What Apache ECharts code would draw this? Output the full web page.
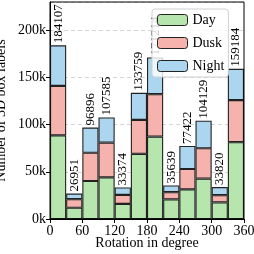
<!DOCTYPE html>
<html><head><meta charset="utf-8">
<script src="https://cdn.jsdelivr.net/npm/echarts@6/dist/echarts.min.js"></script>
<style>html,body{margin:0;padding:0;background:#fff}#c{width:254px;height:254px}</style>
</head><body><div id="c"></div>
<script>
const bins = ['0-30','30-60','60-90','90-120','120-150','150-180','180-210','210-240','240-270','270-300','300-330','330-360'];
const day   = [88700, 11900, 40300, 44200, 16000, 69100, 87400, 20700, 31400, 42800, 17600, 81400];
const dusk  = [52300,  9100, 29900, 36800,  9500, 35900, 44900,  7700, 21600, 32200,  7700, 44600];
const night = [43107,  5951, 26696, 26585,  7874, 28759, 38914,  7239, 24422, 29129,  8520, 33184];
const totals = [184107, 26951, 96896, 107585, 33374, 133759, 171214, 35639, 77422, 104129, 33820, 159184];
const xTicks = [0, 60, 120, 180, 240, 300, 360];

const FONT = 'Liberation Serif';
const cDay = '#b6e6ad', cDusk = '#f6b3ae', cNight = '#acd6ef';
const edge = {borderColor: '#222', borderWidth: 1.1};

const chart = echarts.init(document.getElementById('c'), null, {renderer: 'canvas'});
chart.setOption({
  animation: false,
  textStyle: {fontFamily: FONT},
  grid: {left: 50, right: 10, top: 2, bottom: 35, containLabel: false, outerBoundsMode: 'none'},
  legend: {
    orient: 'vertical', left: 152, top: 9,
    itemWidth: 30, itemHeight: 11, itemGap: 9,
    padding: [4, 4, 4, 5],
    backgroundColor: 'rgba(255,255,255,0.8)',
    borderColor: '#d0d0d0', borderWidth: 1, borderRadius: 3,
    textStyle: {fontFamily: FONT, fontSize: 14, color: '#000'},
    itemStyle: {borderColor: '#222', borderWidth: 1},
    data: ['Day', 'Dusk', 'Night']
  },
  xAxis: [
    {type: 'category', data: bins, show: false, boundaryGap: true},
    {type: 'value', min: xTicks[0], max: xTicks[xTicks.length - 1], interval: 60, position: 'bottom',
     name: 'Rotation in degree', nameLocation: 'middle', nameGap: 17, nameMoveOverlap: false,
     nameTextStyle: {fontFamily: FONT, fontSize: 14, color: '#000'},
     axisLine: {show: true, lineStyle: {color: '#000', width: 1}},
     axisTick: {show: true, length: 4, lineStyle: {color: '#000'}},
     axisLabel: {fontFamily: FONT, fontSize: 14, color: '#000', margin: 5},
     splitLine: {show: false}}
  ],
  yAxis: {
    type: 'value', min: 0, max: 230000, interval: 50000,
    name: 'Number of 3D box labels', nameLocation: 'middle', nameGap: 42, nameMoveOverlap: false,
    nameTextStyle: {fontFamily: FONT, fontSize: 14, color: '#000'},
    axisLine: {show: true, lineStyle: {color: '#000', width: 1}},
    axisTick: {show: true, length: 4, lineStyle: {color: '#000'}},
    axisLabel: {fontFamily: FONT, fontSize: 14, color: '#000', margin: 4, showMaxLabel: false,
      formatter: v => (v / 1000) + 'k'},
    splitLine: {show: true, lineStyle: {color: '#cccccc', type: [4, 3], width: 0.8}}
  },
  series: [
    {name: 'Day', type: 'bar', stack: 's', xAxisIndex: 0, data: day, barWidth: '100%',
     itemStyle: Object.assign({color: cDay}, edge)},
    {name: 'Dusk', type: 'bar', stack: 's', xAxisIndex: 0, data: dusk, barWidth: '100%',
     itemStyle: Object.assign({color: cDusk}, edge)},
    {name: 'Night', type: 'bar', stack: 's', xAxisIndex: 0, data: night, barWidth: '100%',
     itemStyle: Object.assign({color: cNight}, edge),
     label: {show: true, position: 'top', rotate: 90, align: 'left', verticalAlign: 'middle',
       distance: 2, fontFamily: FONT, fontSize: 13, color: '#000',
       formatter: p => String(totals[p.dataIndex])}}
  ],
  graphic: [{type: 'rect', shape: {x: 50, y: 2, width: 194, height: 217}, silent: true, z: 10,
    style: {fill: 'none', stroke: '#000', lineWidth: 1}}]
});
</script></body></html>
